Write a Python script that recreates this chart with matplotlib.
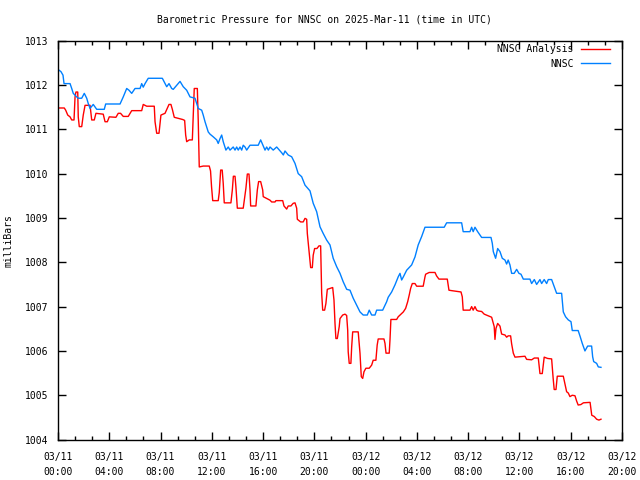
import matplotlib
matplotlib.use('Agg')
import matplotlib.pyplot as plt
import matplotlib.dates as mdates
from matplotlib.ticker import AutoMinorLocator, MultipleLocator
import numpy as np
import pandas as pd

plt.rcParams['font.family'] = ['DejaVu Sans Mono']

start = pd.Timestamp('2025-03-11 00:00')

# hours after 03/11 00:00 UTC, pressure in mb
nnsc_hours = [0.0, 0.23, 0.39, 0.47, 0.94, 1.07, 1.19, 1.46, 1.58, 1.85, 2.05, 2.24, 2.36, 2.50,
              2.75, 3.02, 3.61, 3.72, 4.84, 5.09, 5.36, 5.54, 5.75, 6.01, 6.40, 6.53, 6.65, 6.79,
              7.04, 8.14, 8.48, 8.66, 8.87, 8.99, 9.26, 9.52, 9.77, 10.04, 10.30, 10.69, 10.82,
              10.94, 11.21, 11.33, 11.47, 11.72, 11.86, 12.11, 12.38, 12.50, 12.64, 12.77, 12.89,
              13.10, 13.28, 13.42, 13.67, 13.81, 13.94, 14.06, 14.20, 14.33, 14.45, 14.59, 14.72,
              14.98, 15.62, 15.81, 16.15, 16.28, 16.41, 16.54, 16.79, 17.06, 17.45, 17.58, 17.71,
              17.96, 18.23, 18.49, 18.74, 19.01, 19.27, 19.66, 19.91, 20.18, 20.44, 20.69, 20.96,
              21.22, 21.47, 21.74, 22.00, 22.25, 22.52, 22.78, 23.03, 23.30, 23.56, 23.81, 24.13,
              24.28, 24.47, 24.73, 24.86, 25.33, 25.64, 25.76, 26.03, 26.29, 26.54, 26.68, 26.81,
              26.94, 27.20, 27.59, 27.85, 28.10, 28.37, 28.63, 30.13, 30.32, 31.49, 31.61, 32.14,
              32.27, 32.39, 32.53, 32.74, 33.05, 33.78, 33.88, 33.96, 34.14, 34.30, 34.48, 34.66,
              34.87, 35.00, 35.12, 35.26, 35.39, 35.59, 35.78, 35.96, 36.12, 36.30, 36.82, 36.95,
              37.16, 37.34, 37.60, 37.73, 37.93, 38.12, 38.25, 38.51, 38.71, 38.90, 39.29, 39.42,
              39.60, 39.81, 40.02, 40.12, 40.58, 40.74, 40.90, 41.11, 41.32, 41.63, 41.71, 41.79,
              42.02, 42.15, 42.36]
nnsc_mb = [1012.35, 1012.30, 1012.22, 1012.03, 1012.03, 1011.92, 1011.81, 1011.73, 1011.70,
           1011.70, 1011.81, 1011.70, 1011.58, 1011.47, 1011.56, 1011.45, 1011.45, 1011.57,
           1011.57, 1011.73, 1011.92, 1011.88, 1011.81, 1011.92, 1011.92, 1012.03, 1011.95,
           1012.03, 1012.15, 1012.15, 1011.96, 1012.03, 1011.92, 1011.90, 1011.99, 1012.08,
           1011.96, 1011.88, 1011.73, 1011.70, 1011.58, 1011.47, 1011.43, 1011.32, 1011.17,
           1010.94, 1010.89, 1010.83, 1010.76, 1010.68, 1010.79, 1010.87, 1010.72, 1010.53,
           1010.60, 1010.53, 1010.60, 1010.53, 1010.60, 1010.53, 1010.60, 1010.53, 1010.64,
           1010.60, 1010.53, 1010.64, 1010.64, 1010.76, 1010.53, 1010.60, 1010.53, 1010.60,
           1010.53, 1010.60, 1010.47, 1010.42, 1010.51, 1010.42, 1010.38, 1010.23, 1010.00,
           1009.93, 1009.74, 1009.61, 1009.33, 1009.14, 1008.80, 1008.65, 1008.50, 1008.39,
           1008.09, 1007.90, 1007.75, 1007.56, 1007.39, 1007.37, 1007.19, 1007.03, 1006.88,
           1006.81, 1006.81, 1006.92, 1006.81, 1006.81, 1006.92, 1006.92, 1007.11, 1007.21,
           1007.33, 1007.49, 1007.67, 1007.75, 1007.60, 1007.67, 1007.82, 1007.94, 1008.12,
           1008.39, 1008.58, 1008.79, 1008.79, 1008.89, 1008.89, 1008.69, 1008.69, 1008.79,
           1008.69, 1008.79, 1008.69, 1008.56, 1008.56, 1008.43, 1008.24, 1008.09, 1008.31,
           1008.24, 1008.09, 1008.05, 1007.96, 1008.05, 1007.94, 1007.75, 1007.75, 1007.84,
           1007.75, 1007.73, 1007.62, 1007.62, 1007.52, 1007.61, 1007.50, 1007.61, 1007.52,
           1007.61, 1007.52, 1007.61, 1007.61, 1007.45, 1007.30, 1007.30, 1006.88, 1006.77,
           1006.70, 1006.66, 1006.46, 1006.46, 1006.32, 1006.17, 1006.00, 1006.11, 1006.11,
           1005.87, 1005.76, 1005.72, 1005.64, 1005.63]

anal_hours = [0.0, 0.49, 0.60, 0.76, 0.94, 1.07, 1.25, 1.33, 1.40, 1.54, 1.58, 1.66, 1.85, 1.97,
              2.11, 2.50, 2.63, 2.83, 2.96, 3.53, 3.67, 3.85, 4.00, 4.52, 4.70, 4.88, 5.09, 5.48,
              5.75, 6.53, 6.65, 6.92, 7.51, 7.57, 7.70, 7.88, 8.03, 8.35, 8.66, 8.81, 8.92, 9.07,
              9.73, 9.88, 9.96, 10.04, 10.24, 10.48, 10.55, 10.63, 10.87, 10.94, 11.02, 11.33,
              11.80, 11.90, 11.98, 12.07, 12.50, 12.58, 12.69, 12.81, 12.89, 12.97, 13.49, 13.60,
              13.68, 13.81, 13.88, 13.99, 14.45, 14.66, 14.77, 14.90, 14.98, 15.03, 15.44, 15.55,
              15.65, 15.81, 15.97, 16.01, 16.28, 16.54, 16.67, 16.93, 17.00, 17.53, 17.63, 17.84,
              17.96, 18.17, 18.35, 18.49, 18.62, 18.67, 18.93, 19.13, 19.27, 19.40, 19.45, 19.60,
              19.71, 19.84, 19.91, 20.02, 20.20, 20.36, 20.49, 20.57, 20.65, 20.80, 20.90, 21.01,
              21.22, 21.43, 21.53, 21.61, 21.68, 21.79, 21.94, 22.00, 22.21, 22.39, 22.52, 22.60,
              22.64, 22.72, 22.85, 22.91, 22.99, 23.42, 23.56, 23.66, 23.77, 23.87, 24.02, 24.28,
              24.47, 24.59, 24.80, 24.90, 24.98, 25.43, 25.51, 25.59, 25.84, 25.90, 25.97, 26.42,
              26.54, 26.76, 26.94, 27.12, 27.28, 27.40, 27.51, 27.64, 27.85, 27.98, 28.49, 28.63,
              28.68, 28.96, 29.41, 29.54, 29.72, 30.37, 30.50, 30.71, 31.44, 31.54, 31.61, 32.14,
              32.27, 32.39, 32.53, 32.66, 32.79, 33.05, 33.25, 33.57, 33.83, 33.96, 34.03, 34.09,
              34.17, 34.30, 34.48, 34.61, 34.87, 35.00, 35.12, 35.31, 35.39, 35.52, 35.65, 36.43,
              36.56, 36.95, 37.16, 37.47, 37.60, 37.78, 37.93, 38.20, 38.51, 38.63, 38.71, 38.85,
              38.95, 39.42, 39.55, 39.68, 39.81, 39.94, 40.12, 40.33, 40.46, 40.58, 40.79, 40.99,
              41.51, 41.64, 41.84, 42.02, 42.20, 42.36]
anal_mb = [1011.48, 1011.48, 1011.43, 1011.32, 1011.28, 1011.21, 1011.21, 1011.73, 1011.84,
           1011.84, 1011.28, 1011.06, 1011.06, 1011.32, 1011.54, 1011.54, 1011.21, 1011.21,
           1011.36, 1011.34, 1011.17, 1011.17, 1011.28, 1011.27, 1011.36, 1011.36, 1011.29,
           1011.29, 1011.42, 1011.42, 1011.56, 1011.52, 1011.52, 1011.17, 1010.91, 1010.91,
           1011.32, 1011.36, 1011.56, 1011.56, 1011.45, 1011.27, 1011.22, 1011.20, 1010.87,
           1010.72, 1010.76, 1010.76, 1011.28, 1011.92, 1011.92, 1011.20, 1010.15, 1010.17,
           1010.17, 1010.06, 1009.70, 1009.39, 1009.39, 1009.57, 1010.08, 1010.08, 1009.78,
           1009.34, 1009.34, 1009.63, 1009.94, 1009.94, 1009.70, 1009.22, 1009.22, 1009.67,
           1009.99, 1009.99, 1009.63, 1009.27, 1009.27, 1009.63, 1009.82, 1009.82, 1009.63,
           1009.48, 1009.44, 1009.40, 1009.36, 1009.36, 1009.39, 1009.39, 1009.27, 1009.20,
           1009.27, 1009.27, 1009.33, 1009.34, 1009.22, 1008.97, 1008.91, 1008.91, 1008.99,
           1008.97, 1008.65, 1008.20, 1007.88, 1007.88, 1008.16, 1008.31, 1008.31, 1008.37,
           1008.37, 1007.30, 1006.92, 1006.92, 1007.07, 1007.39, 1007.41, 1007.43, 1007.15,
           1006.62, 1006.28, 1006.28, 1006.55, 1006.73, 1006.81, 1006.83, 1006.80, 1006.47,
           1005.98, 1005.72, 1005.72, 1006.09, 1006.43, 1006.43, 1005.95, 1005.42, 1005.38,
           1005.53, 1005.61, 1005.61, 1005.68, 1005.79, 1005.79, 1006.13, 1006.27, 1006.27,
           1006.17, 1005.95, 1005.95, 1006.25, 1006.71, 1006.71, 1006.77, 1006.83, 1006.88,
           1006.96, 1007.11, 1007.26, 1007.41, 1007.52, 1007.52, 1007.46, 1007.46, 1007.67,
           1007.73, 1007.77, 1007.77, 1007.69, 1007.62, 1007.62, 1007.37, 1007.36, 1007.33,
           1007.22, 1006.92, 1006.92, 1007.00, 1006.92, 1007.00, 1006.92, 1006.90, 1006.89,
           1006.83, 1006.79, 1006.76, 1006.62, 1006.55, 1006.26, 1006.51, 1006.62, 1006.56,
           1006.38, 1006.36, 1006.31, 1006.34, 1006.34, 1006.16, 1005.95, 1005.86, 1005.88,
           1005.81, 1005.80, 1005.84, 1005.84, 1005.49, 1005.49, 1005.86, 1005.83, 1005.82,
           1005.38, 1005.13, 1005.13, 1005.43, 1005.43, 1005.25, 1005.08, 1005.05, 1004.97,
           1005.00, 1004.99, 1004.87, 1004.78, 1004.79, 1004.83, 1004.84, 1004.55, 1004.52,
           1004.46, 1004.44, 1004.46]

nnsc_t = start + pd.to_timedelta(nnsc_hours, unit='h')
anal_t = start + pd.to_timedelta(anal_hours, unit='h')

fig = plt.figure(figsize=(6.4, 4.8), dpi=100)
ax = fig.add_axes([58/640, 40.4/480, 564/640, 399/480])

ax.plot(anal_t, anal_mb, color='#ff0000', lw=1.0, label='NNSC Analysis')
ax.plot(nnsc_t, nnsc_mb, color='#0080ff', lw=1.0, label='NNSC')

ax.set_xlim(start, start + pd.Timedelta(hours=44))
ax.set_ylim(1004, 1013)
ax.yaxis.set_major_locator(MultipleLocator(1))
ax.yaxis.set_major_formatter(matplotlib.ticker.FormatStrFormatter('%d'))
ax.xaxis.set_major_locator(mdates.HourLocator(byhour=range(0, 24, 4)))
ax.xaxis.set_major_formatter(mdates.DateFormatter('%m/%d\n%H:%M'))
ax.xaxis.set_minor_locator(AutoMinorLocator(3))

ax.tick_params(axis='both', which='both', direction='in', top=True, right=True,
               labelsize=7.0, width=1, colors='black')
ax.tick_params(axis='x', which='major', length=6, pad=9)
ax.tick_params(axis='y', which='major', length=6, pad=7)
ax.tick_params(axis='both', which='minor', length=3)
for lbl in ax.get_xticklabels():
    lbl.set_linespacing(1.6)
for s in ax.spines.values():
    s.set_linewidth(1)

ax.set_ylabel('milliBars', fontsize=7.0, labelpad=8)
fig.text(324/640, 1 - 19/480, 'Barometric Pressure for NNSC on 2025-Mar-11 (time in UTC)',
         ha='center', va='center', fontsize=7.0)

leg = ax.legend(loc='upper right', fontsize=7.0, frameon=False, markerfirst=False,
                handlelength=2.9, handletextpad=0.8, labelspacing=0.45,
                borderaxespad=0.1, borderpad=0.3, bbox_to_anchor=(0.985, 1.0))
for t in leg.get_texts():
    t.set_ha('right')

fig.savefig('out.png', dpi=100)
